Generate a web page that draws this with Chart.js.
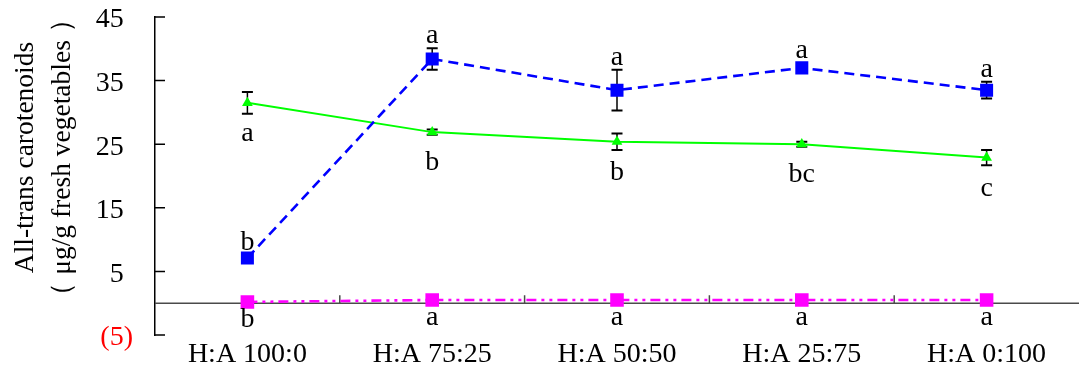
<!DOCTYPE html>
<html>
<head>
<meta charset="utf-8">
<script src="https://cdn.jsdelivr.net/npm/chart.js@4.4.1/dist/chart.umd.min.js"></script>
<style>
  html, body { margin: 0; padding: 0; background: #ffffff; }
  #wrap { width: 1079px; height: 369px; position: relative; }
</style>
</head>
<body>
<div id="wrap"><canvas id="chart" width="1079" height="369"></canvas></div>
<script>
// Solvent ratio (hexane : acetone) categories
const categories = ['H:A 100:0', 'H:A 75:25', 'H:A 50:50', 'H:A 25:75', 'H:A 0:100'];
const yTicks = [-5, 5, 15, 25, 35, 45];

// Series: mean, standard deviation and significance letters
const blueValues  = [7.1, 38.4, 33.5, 37.0, 33.5];
const blueErrors  = [0.5, 1.7, 3.2, 0.7, 1.3];
const blueLetters = ['b', 'a', 'a', 'a', 'a'];

const greenValues  = [31.5, 26.9, 25.4, 25.0, 22.9];
const greenErrors  = [1.7, 0.4, 1.3, 0.4, 1.2];
const greenLetters = ['a', 'b', 'b', 'bc', 'c'];

const pinkValues  = [0.2, 0.5, 0.5, 0.5, 0.5];
const pinkErrors  = [0, 0, 0, 0, 0];
const pinkLetters = ['b', 'a', 'a', 'a', 'a'];

const SERIF = "'Liberation Serif', 'Times New Roman', serif";

// Error bars with caps, drawn underneath the markers
const errorBars = {
  id: 'errorBars',
  beforeDatasetsDraw(chart) {
    const ctx = chart.ctx, y = chart.scales.y;
    ctx.save();
    ctx.strokeStyle = '#000000';
    chart.data.datasets.forEach((ds, di) => {
      const meta = chart.getDatasetMeta(di);
      meta.data.forEach((pt, i) => {
        const e = ds.errors[i];
        if (!e) return;
        const top = y.getPixelForValue(ds.data[i] + e);
        const bot = y.getPixelForValue(ds.data[i] - e);
        ctx.lineWidth = 1.5;
        ctx.beginPath();
        ctx.moveTo(pt.x, top); ctx.lineTo(pt.x, bot);
        ctx.stroke();
        ctx.lineWidth = 2;
        ctx.beginPath();
        ctx.moveTo(pt.x - 5.5, top); ctx.lineTo(pt.x + 5.5, top);
        ctx.moveTo(pt.x - 5.5, bot); ctx.lineTo(pt.x + 5.5, bot);
        ctx.stroke();
      });
    });
    ctx.restore();
  }
};

// Significance letters next to each mean
const sigLetters = {
  id: 'sigLetters',
  afterDatasetsDraw(chart) {
    const ctx = chart.ctx, y = chart.scales.y;
    ctx.save();
    ctx.font = '28px ' + SERIF;
    ctx.fillStyle = '#000000';
    ctx.textAlign = 'center';
    ctx.textBaseline = 'alphabetic';
    chart.data.datasets.forEach((ds, di) => {
      const meta = chart.getDatasetMeta(di);
      meta.data.forEach((pt, i) => {
        let base;
        if (ds.letterSide === 'above') {
          base = y.getPixelForValue(ds.data[i] + ds.errors[i]) - 5;
        } else {
          base = pt.y + ds.letterGap;
        }
        ctx.fillText(ds.letters[i], pt.x, base);
      });
    });
    ctx.restore();
  }
};

// Zero baseline, category separators, inward y ticks and the y title
const axisDecor = {
  id: 'axisDecor',
  beforeDatasetsDraw(chart) {
    const ctx = chart.ctx, x = chart.scales.x, y = chart.scales.y;
    const area = chart.chartArea;
    const y0 = y.getPixelForValue(0);
    ctx.save();
    ctx.strokeStyle = '#4a4a4a';
    ctx.lineWidth = 1.5;
    ctx.beginPath();
    ctx.moveTo(area.left, y0); ctx.lineTo(chart.width, y0);
    for (let i = 0; i < categories.length - 1; i++) {
      const xm = (x.getPixelForValue(i) + x.getPixelForValue(i + 1)) / 2;
      ctx.moveTo(xm, y0); ctx.lineTo(xm, y0 - 8);
    }
    ctx.stroke();
    ctx.strokeStyle = '#000000';
    ctx.beginPath();
    yTicks.forEach(v => {
      const py = y.getPixelForValue(v);
      ctx.moveTo(area.left, py); ctx.lineTo(area.left + 10, py);
    });
    ctx.stroke();
    ctx.restore();
  },
  afterDraw(chart) {
    const ctx = chart.ctx;
    ctx.save();
    ctx.font = '27.5px ' + SERIF;
    ctx.fillStyle = '#000000';
    ctx.textAlign = 'center';
    ctx.textBaseline = 'alphabetic';
    ctx.translate(0, 157.5);
    ctx.rotate(-Math.PI / 2);
    ctx.fillText('All-trans carotenoids', 0, 33);
    ctx.fillText('\uFF08 \u03BCg/g fresh vegetables \uFF09', 0, 70);
    ctx.restore();
  }
};

new Chart(document.getElementById('chart'), {
  type: 'line',
  data: {
    labels: categories,
    datasets: [
      {
        data: blueValues, errors: blueErrors, letters: blueLetters, letterSide: 'above',
        borderColor: '#0000ff', backgroundColor: '#0000ff',
        borderWidth: 2.6, borderDash: [10, 6],
        pointStyle: 'rect', pointRadius: 9.2, pointBorderWidth: 0,
        pointBackgroundColor: '#0000ff'
      },
      {
        data: greenValues, errors: greenErrors, letters: greenLetters, letterSide: 'below', letterGap: 38,
        borderColor: '#00ff00', backgroundColor: '#00ff00',
        borderWidth: 2,
        pointStyle: 'triangle', pointRadius: 6.2, pointBorderWidth: 0,
        pointBackgroundColor: '#00ff00'
      },
      {
        data: pinkValues, errors: pinkErrors, letters: pinkLetters, letterSide: 'below', letterGap: 25,
        borderColor: '#ff00ff', backgroundColor: '#ff00ff',
        borderWidth: 2.6, borderDash: [10, 5, 3, 5, 3, 5],
        pointStyle: 'rect', pointRadius: 9.6, pointBorderWidth: 0,
        pointBackgroundColor: '#ff00ff'
      }
    ]
  },
  options: {
    responsive: false,
    animation: false,
    devicePixelRatio: 1,
    layout: { autoPadding: false, padding: { top: 17, right: 0, bottom: 0, left: 0 } },
    plugins: { legend: { display: false }, tooltip: { enabled: false } },
    elements: { line: { tension: 0 } },
    scales: {
      x: {
        type: 'category',
        offset: true,
        grid: { display: false, drawTicks: false },
        border: { display: false },
        ticks: { color: '#000000', font: { family: SERIF, size: 28 }, padding: 3, maxRotation: 0, autoSkip: false },
        afterFit: s => { s.height = 34; s.paddingLeft = 0; s.paddingRight = 0; }
      },
      y: {
        min: -5, max: 45,
        grid: { display: false, drawTicks: false },
        border: { display: true, color: '#000000', width: 1.5 },
        afterBuildTicks: s => { s.ticks = yTicks.map(v => ({ value: v })); },
        ticks: {
          padding: 22,
          labelOffset: 3,
          font: { family: SERIF, size: 28 },
          color: c => (c.tick && c.tick.value < 0 ? '#ff0000' : '#000000'),
          callback: v => (v < 0 ? '(' + Math.abs(v) + ')' : v + '\u2004')
        },
        afterFit: s => { s.width = 155; s.paddingTop = 0; s.paddingBottom = 0; }
      }
    }
  },
  plugins: [axisDecor, errorBars, sigLetters]
});
</script>
</body>
</html>
